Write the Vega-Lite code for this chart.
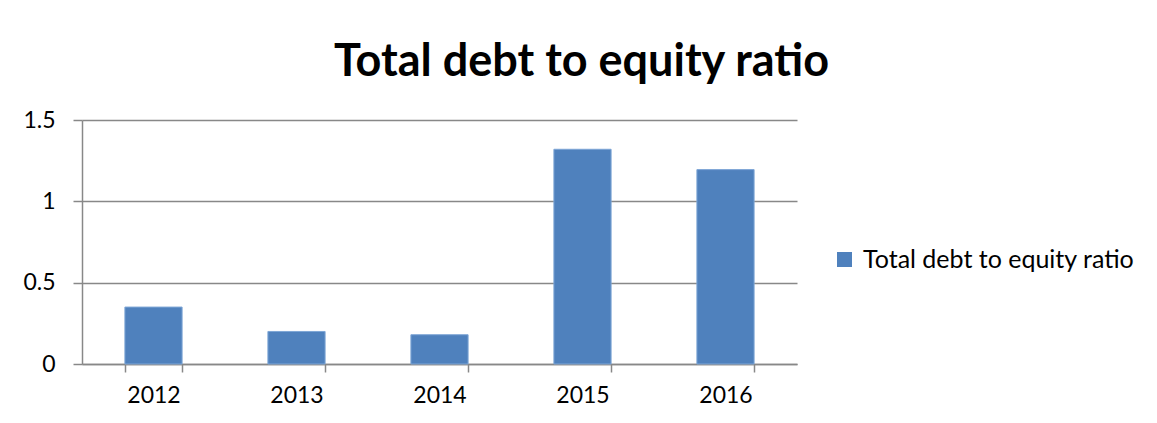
{
  "$schema": "https://vega.github.io/schema/vega-lite/v6.json",
  "width": 715,
  "height": 244,
  "autosize": {"type": "none"},
  "padding": {"left": 82, "top": 120, "right": 360, "bottom": 59},
  "background": "white",
  "title": {
    "text": "Total debt to equity ratio",
    "font": "Lato",
    "fontSize": 45,
    "fontWeight": "bold",
    "color": "#000000",
    "anchor": "middle",
    "frame": "group",
    "dx": 142,
    "offset": 24
  },
  "data": {
    "values": [
      {"year": "2012", "ratio": 0.35, "series": "Total debt to equity ratio"},
      {"year": "2013", "ratio": 0.20, "series": "Total debt to equity ratio"},
      {"year": "2014", "ratio": 0.18, "series": "Total debt to equity ratio"},
      {"year": "2015", "ratio": 1.32, "series": "Total debt to equity ratio"},
      {"year": "2016", "ratio": 1.195, "series": "Total debt to equity ratio"}
    ]
  },
  "mark": {"type": "bar", "stroke": "#7ea6d6", "strokeWidth": 1},
  "encoding": {
    "x": {
      "field": "year",
      "type": "nominal",
      "title": null,
      "scale": {"paddingInner": 0.6, "paddingOuter": 0.3},
      "axis": {
        "labelAngle": 0,
        "labelFont": "Lato",
        "labelFontSize": 23,
        "labelColor": "#000000",
        "labelPadding": 12,
        "tickBand": "extent",
        "tickSize": 8,
        "tickColor": "#888888",
        "tickWidth": 1.5,
        "domainColor": "#888888",
        "domainWidth": 1.5,
        "grid": false
      }
    },
    "y": {
      "field": "ratio",
      "type": "quantitative",
      "title": null,
      "scale": {"domain": [0, 1.5]},
      "axis": {
        "values": [0, 0.5, 1, 1.5],
        "format": "~g",
        "labelFont": "Lato",
        "labelFontSize": 23,
        "labelColor": "#000000",
        "labelPadding": 18,
        "tickSize": 9,
        "tickColor": "#888888",
        "tickWidth": 1.5,
        "domainColor": "#888888",
        "domainWidth": 1.5,
        "grid": true,
        "gridColor": "#888888",
        "gridWidth": 1.5
      }
    },
    "color": {
      "field": "series",
      "type": "nominal",
      "scale": {"range": ["#4F81BD"]},
      "legend": {
        "title": null,
        "orient": "none",
        "legendX": 750,
        "legendY": 127,
        "symbolType": "square",
        "symbolSize": 225,
        "symbolStrokeWidth": 0,
        "labelFont": "Lato",
        "labelFontSize": 25,
        "labelColor": "#000000",
        "labelOffset": 6,
        "labelLimit": 400
      }
    }
  },
  "config": {
    "view": {"stroke": null}
  }
}
